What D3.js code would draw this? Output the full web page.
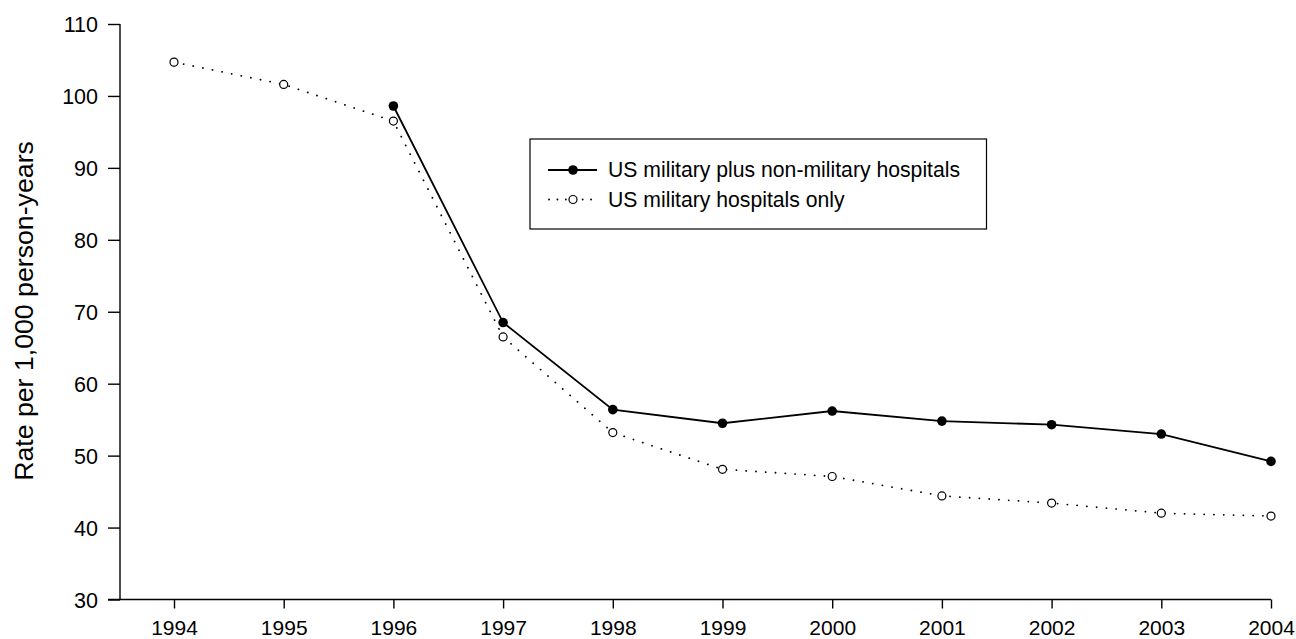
<!DOCTYPE html>
<html><head><meta charset="utf-8">
<script src="https://cdn.jsdelivr.net/npm/d3@7"></script>
<style>body{margin:0;background:#fff}svg{display:block}text{font-family:"Liberation Sans",Arial,sans-serif;fill:#000}</style>
</head><body><svg id="c" width="1296" height="639"></svg>
<script>
const years = [1994,1995,1996,1997,1998,1999,2000,2001,2002,2003,2004];
const plusYears = [1996,1997,1998,1999,2000,2001,2002,2003,2004];
const plusValues = [98.6,68.5,56.4,54.5,56.2,54.8,54.3,53.0,49.2];
const onlyYears = years;
const onlyValues = [104.7,101.6,96.5,66.5,53.2,48.1,47.1,44.4,43.4,42.0,41.6];
const yTicks = [30,40,50,60,70,80,90,100,110];
const seriesNames = ["US military plus non-military hospitals","US military hospitals only"];
const yLabel = "Rate per 1,000 person-years";

const FF = "'Liberation Sans',Arial,sans-serif";
const svg = d3.select("#c");
const x = d3.scaleLinear().domain([1994,2004]).range([174,1271]);
const y = d3.scaleLinear().domain([30,110]).range([599.5,24]);

// y axis
const ya = svg.append("g").attr("transform","translate(120,0)")
  .call(d3.axisLeft(y).tickValues(yTicks).tickSize(12).tickPadding(10).tickFormat(d3.format("d")));
ya.select(".domain").attr("d","M0,"+y(30)+"V"+y(110)).attr("stroke","#000").attr("stroke-width",1.4);
ya.selectAll(".tick line").attr("stroke","#000").attr("stroke-width",1.4);
ya.selectAll("text").style("font-size","21.5px").style("font-family",FF).attr("dy","0.35em");

// x axis
const xa = svg.append("g").attr("transform","translate(0,599.5)")
  .call(d3.axisBottom(x).tickValues(years).tickSize(9).tickPadding(11.5).tickFormat(d3.format("d")));
xa.select(".domain").attr("d","M108,0H1271").attr("stroke","#000").attr("stroke-width",1.4);
xa.selectAll(".tick line").attr("stroke","#000").attr("stroke-width",1.4);
xa.selectAll("text").style("font-size","21px").style("font-family",FF);

svg.append("text").attr("transform","translate(33,311) rotate(-90)")
  .attr("text-anchor","middle").style("font-size","26.7px").style("font-family",FF).text(yLabel);

const line = d3.line().x(d=>x(d[0])).y(d=>y(d[1]));
const plus = plusYears.map((d,i)=>[d,plusValues[i]]);
const only = onlyYears.map((d,i)=>[d,onlyValues[i]]);

svg.append("path").datum(only).attr("d",line).attr("fill","none").attr("stroke","#000")
  .attr("stroke-width",1.8).attr("stroke-dasharray","0.1,9.7").attr("stroke-linecap","round");
svg.append("path").datum(plus).attr("d",line).attr("fill","none").attr("stroke","#000").attr("stroke-width",1.8);

svg.selectAll(".op").data(only).join("circle").attr("cx",d=>x(d[0])).attr("cy",d=>y(d[1]))
  .attr("r",4).attr("fill","#fff").attr("stroke","#000").attr("stroke-width",1.2);
svg.selectAll(".pp").data(plus).join("circle").attr("cx",d=>x(d[0])).attr("cy",d=>y(d[1]))
  .attr("r",4.8).attr("fill","#000");

// legend
const lg = svg.append("g");
lg.append("rect").attr("x",530).attr("y",139).attr("width",456.5).attr("height",90)
  .attr("fill","#fff").attr("stroke","#000").attr("stroke-width",1.2);
lg.append("line").attr("x1",548).attr("x2",597).attr("y1",170).attr("y2",170).attr("stroke","#000").attr("stroke-width",1.8);
lg.append("circle").attr("cx",573).attr("cy",170).attr("r",4.8).attr("fill","#000");
lg.append("line").attr("x1",549).attr("x2",597).attr("y1",199.5).attr("y2",199.5).attr("stroke","#000")
  .attr("stroke-width",1.8).attr("stroke-dasharray","0.1,8.3").attr("stroke-linecap","round");
lg.append("circle").attr("cx",573).attr("cy",199.5).attr("r",4).attr("fill","#fff").attr("stroke","#000").attr("stroke-width",1.2);
lg.selectAll(".lt").data(seriesNames).join("text").attr("x",608).attr("y",(d,i)=>170+i*29.5)
  .attr("dy","0.35em").style("font-size","21.2px").style("font-family",FF).text(d=>d);
</script></body></html>
